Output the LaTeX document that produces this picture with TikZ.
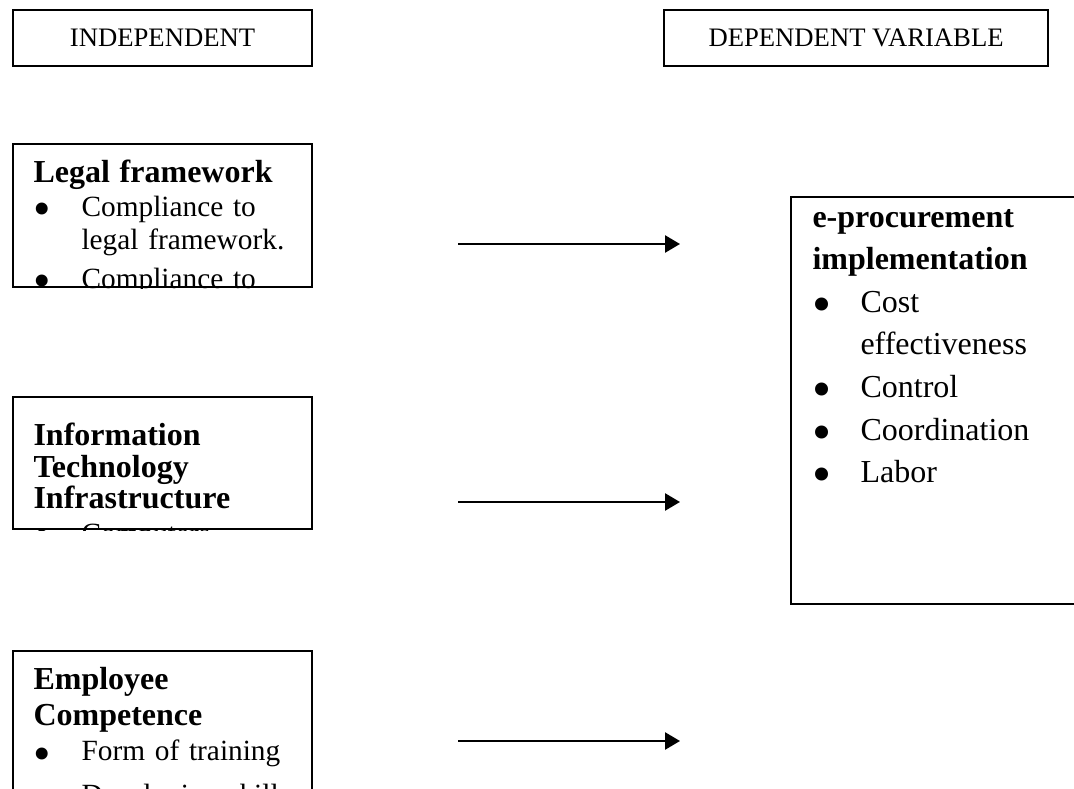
\documentclass[tikz,border=0pt]{standalone}
\usepackage{fontspec}
\setmainfont{Liberation Serif}
\usetikzlibrary{positioning,arrows.meta}

\newcommand{\bpt}{\makebox[18pt][l]{\smash{\raisebox{-0.31em}{\scalebox{1.7}{\textbullet}}}}}
\newcommand{\bskip}{\hspace*{18pt}}

\tikzset{
  frame/.style={draw, line width=0.8pt, inner sep=0pt, anchor=north west},
  label/.style={frame, minimum height=21pt, font=\fontsize{10}{12}\selectfont},
  factor/.style={frame, minimum width=112.1pt},
  boxtext/.style={anchor=base west, inner sep=0pt, text width=105pt, align=left},
  flow/.style={-{Triangle[length=5.6pt,width=6.4pt]}, line width=0.8pt}
}

\begin{document}
\begin{tikzpicture}[x=0.375pt, y=-0.375pt]
  \useasboundingbox (0,0) rectangle (1074,789);
  \clip (0,0) rectangle (1074,789);

  % headings
  \node[label, minimum width=112.1pt] (indep) at (12,9) {INDEPENDENT};
  \node[label, minimum width=144pt] (dep) at (663,9) {DEPENDENT VARIABLE};

  % independent variables
  \node[factor, minimum height=53.6pt] (legal) at (12,143) {};
  \node[factor, minimum height=49.5pt] (infra) at (12,396) {};
  \node[factor, minimum height=56.3pt] (staff) at (12,650) {};

  \begin{scope}
    \clip (legal.north west) rectangle (legal.south east);
    \node[boxtext, font=\fontsize{11}{12.5pt}\selectfont] (legaltxt) at (33,183)
      {{\fontsize{12}{12.5pt}\selectfont\bfseries Legal framework}\\
       \bpt Compliance to\\
       \bskip legal framework.\\[2pt]
       \bpt Compliance to};
  \end{scope}

  \begin{scope}
    \clip (infra.north west) rectangle (infra.south east);
    \node[boxtext, font=\fontsize{11}{12pt}\selectfont] (infratxt) at (33,445)
      {{\fontsize{12}{12pt}\selectfont\bfseries Information\\ Technology\\ Infrastructure}\\[1pt]
       \bpt Computers};
  \end{scope}

  \begin{scope}
    \clip (staff.north west) rectangle (staff.south east);
    \node[boxtext, font=\fontsize{11}{13.5pt}\selectfont] (stafftxt) at (33,689)
      {{\fontsize{12}{13.5pt}\selectfont\bfseries Employee\\ Competence}\\
       \bpt Form of training\\[3pt]
       \bpt Developing skill};
  \end{scope}

  % dependent variable
  \node[frame, minimum width=108.75pt, minimum height=152.6pt] (eproc) at (790,196) {};
  \node[boxtext, font=\fontsize{12}{16pt}\selectfont] (eproctxt) at (812,227)
    {\textbf{e-procurement}\\ \textbf{implementation}\\
     \bpt Cost\\
     \bskip effectiveness\\
     \bpt Control\\
     \bpt Coordination\\
     \bpt Labor};

  % arrows
  \coordinate (a1) at (458,244);  \coordinate (b1) at (680,244);
  \coordinate (a2) at (458,502);  \coordinate (b2) at (680,502);
  \coordinate (a3) at (458,741);  \coordinate (b3) at (680,741);
  \draw[flow] (a1) -- (b1);
  \draw[flow] (a2) -- (b2);
  \draw[flow] (a3) -- (b3);
\end{tikzpicture}
\end{document}
